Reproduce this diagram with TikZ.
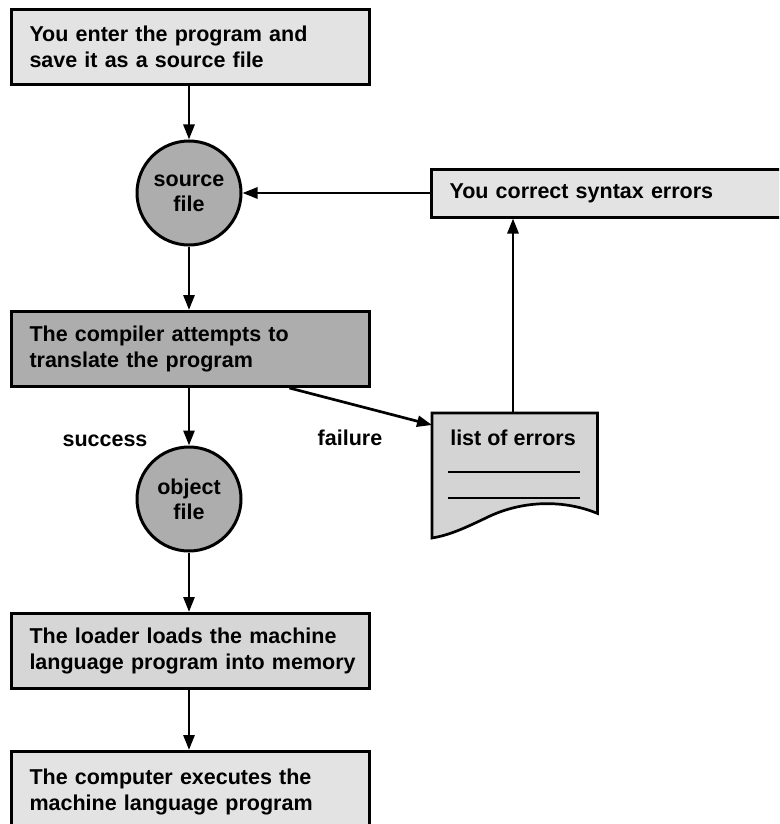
\documentclass[tikz,border=0pt]{standalone}
\usepackage{fontspec}
\setmainfont{Liberation Sans}
\usetikzlibrary{arrows.meta,calc}
\definecolor{lightfill}{gray}{0.89}
\definecolor{loadfill}{gray}{0.84}
\definecolor{midfill}{gray}{0.68}
\definecolor{docfill}{gray}{0.83}
\tikzset{
  txt/.style={font=\fontsize{21.5}{26}\selectfont\bfseries},
  stepbox/.style={txt, draw=black, line width=3pt, fill=lightfill, minimum width=358pt,
    minimum height=75pt, inner xsep=18pt, text width=322pt, align=left},
  darkbox/.style={stepbox, fill=midfill},
  filecircle/.style={circle, draw=black, line width=3pt, fill=midfill,
    minimum size=104pt, inner sep=0pt, align=center, font=\fontsize{21.5}{25}\selectfont\bfseries},
  conn/.style={line width=2.7pt, -{Triangle[length=15pt,width=11pt]}},
  lbl/.style={txt, inner sep=0pt},
}
\begin{document}
\begin{tikzpicture}[x=1pt,y=-1pt]
\useasboundingbox (0,0) rectangle (779,824);
\clip (0,0) rectangle (779,824);
\fill[white] (0,0) rectangle (779,824);

\node[stepbox, anchor=north west] (enter) at (10,8) {\mbox{You enter the program and}\\\mbox{save it as a source file}};
\node[filecircle] (src) at (189,193) {source\\file};
\node[stepbox, anchor=west, minimum width=362pt, minimum height=48pt, inner xsep=18pt, text width=326pt] (fix) at (430,193) {You correct syntax errors};
\node[darkbox, anchor=north west] (cmp) at (10,310) {\mbox{The compiler attempts to}\\\mbox{translate the program}};
\node[filecircle] (obj) at (189,499) {object\\file};
\node[stepbox, anchor=north west, fill=loadfill] (load) at (10,612) {\mbox{The loader loads the machine}\\\mbox{language program into memory}};
\node[stepbox, anchor=north west, minimum height=80pt] (run) at (10,750) {\mbox{The computer executes the}\\\mbox{machine language program}};

% document shape
\node[minimum width=165pt, minimum height=100pt, inner sep=0pt, anchor=north west] (doc) at (432,413) {};
\filldraw[fill=docfill, draw=black, line width=2.7pt]
  (doc.north west) -- (doc.north east) -- (doc.south east)
  .. controls (565,500) and (525,500) .. (490,516)
  .. controls (465,528) and (450,535) .. (432,538) -- cycle;
\node[lbl] (errs) at (513,438) {list of errors};
\draw[line width=2.7pt] (448,472) -- (580,472) (448,498) -- (580,498);

\node[lbl] (succ) at (105,441) {success};
\node[lbl] (fail) at (350,438) {failure};

\draw[conn] (enter.south -| src) -- (src.north);
\draw[conn] (src.south) -- (cmp.north -| src);
\draw[conn] (cmp.south -| obj) -- (obj.north);
\draw[conn] (obj.south) -- (load.north -| obj);
\draw[conn] (load.south -| obj) -- (run.north -| obj);
\draw[conn] ($(cmp.south west)!0.774!(cmp.south east)$) -- ($(doc.north west)+(0,12)$);
\draw[conn] (fix.west) -- (src.east);
\draw[conn] (doc.north -| errs) -- (fix.south -| errs);
\end{tikzpicture}
\end{document}
